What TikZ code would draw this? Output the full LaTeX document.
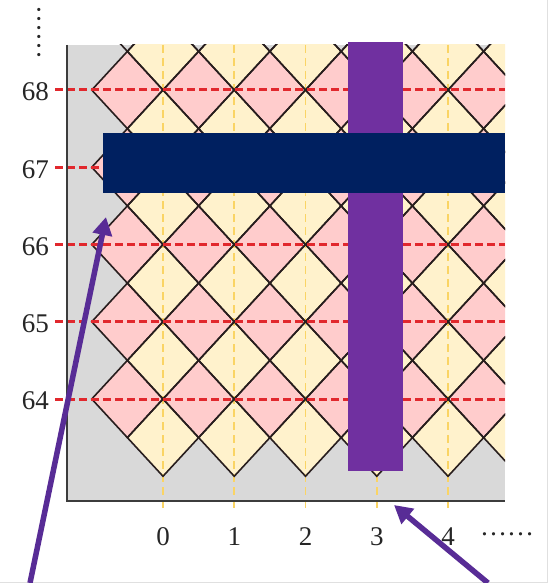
\documentclass[tikz,border=0pt]{standalone}
\usepackage{fontspec}
\setmainfont{Liberation Serif}
\usetikzlibrary{arrows.meta}
\definecolor{pinkc}{RGB}{255,204,204}
\definecolor{yelc}{RGB}{255,242,204}
\definecolor{grayc}{RGB}{217,217,217}
\definecolor{redd}{RGB}{225,40,45}
\definecolor{yeld}{RGB}{250,212,100}
\definecolor{navyc}{RGB}{0,32,96}
\definecolor{purpc}{RGB}{112,48,160}
\definecolor{arrc}{RGB}{88,44,150}
\definecolor{latc}{RGB}{40,30,30}
\definecolor{axc}{RGB}{60,60,60}
\begin{document}
\begin{tikzpicture}[x=1pt,y=-1pt,
  lab/.style={font=\fontsize{27}{32}\selectfont, inner sep=0pt, text=black!85},
  latline/.style={draw=latc, line width=1.6pt, line join=miter},
  reddash/.style={draw=redd, line width=3pt, dash pattern=on 8pt off 4pt},
  yeldash/.style={draw=yeld, line width=1.8pt, dash pattern=on 8pt off 5pt},
  axisline/.style={draw=axc, line width=1.8pt},
  bigarrow/.style={draw=arrc, line width=5.5pt, -{Triangle[length=18pt,width=19pt]}},
  dotsl/.style={font=\fontsize{27}{32}\selectfont, inner sep=0pt, text=black!85}]
\useasboundingbox (0,0) rectangle (548,583);
\fill[white] (0,0) rectangle (548,583);
\draw[black!12, line width=1pt] (0,582.5) -- (547.5,582.5) -- (547.5,0);
% background of the plot
\fill[grayc] (67,45) rectangle (505,501);
\begin{scope}
  \clip (67,45) rectangle (505,501);
  \begin{scope}[shift={(163,90)}, x=71.25pt, y=77.25pt]
    % yellow diamonds
    \foreach \c in {0,...,5}
      \foreach \r in {-4.5,-3.5,...,0.5}
        \fill[yelc] (\c-0.5,\r) -- (\c,\r+0.5) -- (\c+0.5,\r) -- (\c,\r-0.5) -- cycle;
    % pink diamonds
    \foreach \c in {-0.5,0.5,...,4.5}
      \foreach \r in {-4,...,0}
        \fill[pinkc] (\c-0.5,\r) -- (\c,\r+0.5) -- (\c+0.5,\r) -- (\c,\r-0.5) -- cycle;
  \end{scope}
\end{scope}
% yellow dashed column lines
\foreach \i in {0,...,4}
  \draw[yeldash] ({163+71.25*\i},45) -- ({163+71.25*\i},512);
\begin{scope}
  \clip (67,45) rectangle (505,501);
  \begin{scope}[shift={(163,90)}, x=71.25pt, y=77.25pt]
    \foreach \c in {0,...,5}
      \foreach \r in {-4.5,-3.5,...,0.5}
        \draw[latline] (\c-0.5,\r) -- (\c,\r+0.5) -- (\c+0.5,\r) -- (\c,\r-0.5) -- cycle;
    \foreach \c in {-0.5,0.5,...,4.5}
      \foreach \r in {-4,...,1}
        \draw[latline] (\c-0.5,\r) -- (\c,\r+0.5) -- (\c+0.5,\r) -- (\c,\r-0.5) -- cycle;
  \end{scope}
\end{scope}
% red dashed row lines
\foreach \j in {64,...,68}
  \draw[reddash] (55,{90+77.25*(68-\j)}) -- (505,{90+77.25*(68-\j)});
% axes
\draw[axisline] (67,45) -- (67,501) -- (505,501);
% row labels
\foreach \j in {64,...,68}
  \node[lab, anchor=east] (row\j) at (49,{92+77.25*(68-\j)}) {\j};
% column labels
\foreach \i in {0,...,4}
  \node[lab] (col\i) at ({163+71.25*\i},537) {\i};
% ellipses
\node[dotsl, anchor=base, rotate=90] (vdots) at (40.5,33) {……};
\node[dotsl, anchor=base] (hdots) at (507,535) {……};
% overlay rectangles
\fill[purpc] (348,42) rectangle (403,471);
\fill[navyc] (103,133) rectangle (505,193);
% arrows
\coordinate (a1tail) at (30,583);
\coordinate (a1tip) at (106,217);
\coordinate (a2tail) at (488,583);
\coordinate (a2tip) at (394,505);
\draw[bigarrow] (a1tail) -- (a1tip);
\draw[bigarrow] (a2tail) -- (a2tip);
\end{tikzpicture}
\end{document}
